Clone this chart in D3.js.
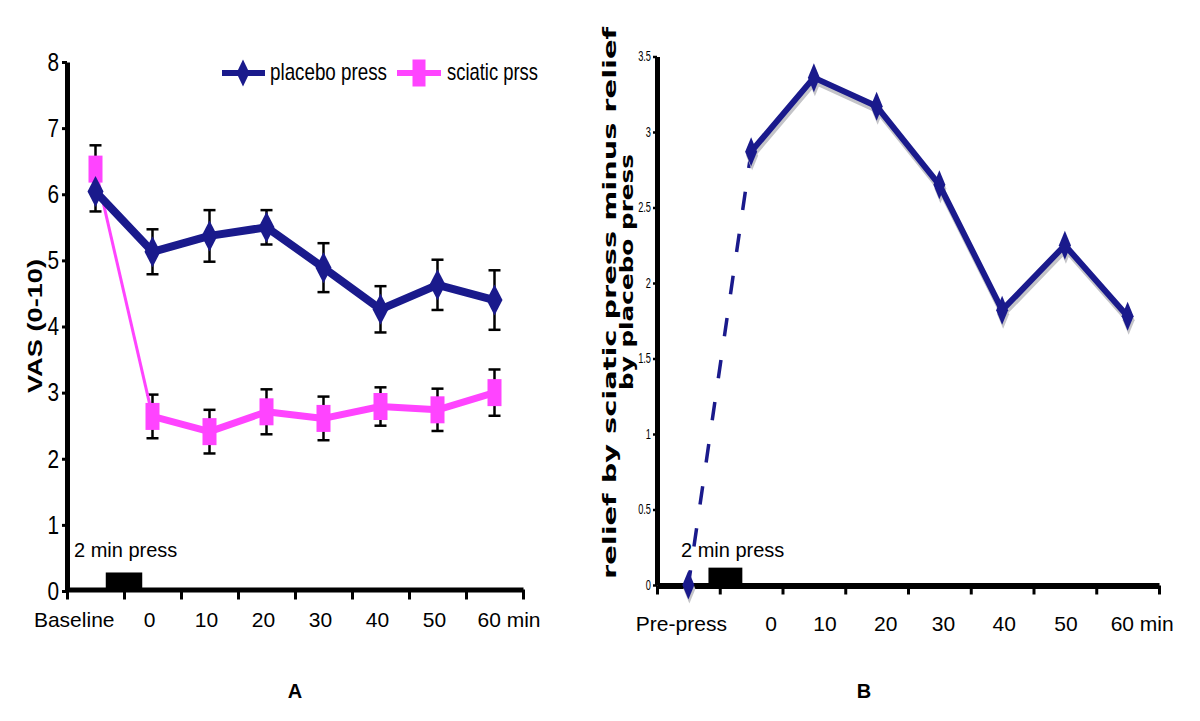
<!DOCTYPE html>
<html><head><meta charset="utf-8">
<script src="https://cdn.jsdelivr.net/npm/d3@7"></script>
<style>body{margin:0;background:#fff} svg{display:block}</style>
</head><body>
<svg id="c" width="1200" height="721"></svg>
<script>
// ---- data ----
const categoriesA = ["Baseline","0","10","20","30","40","50","60 min"];
const placeboMean = [6.04,5.13,5.37,5.50,4.89,4.26,4.63,4.40];
const placeboSE   = [0.30,0.34,0.39,0.26,0.37,0.35,0.38,0.45];
const sciaticMean = [6.38,2.64,2.41,2.71,2.61,2.79,2.74,3.00];
const sciaticSE   = [0.36,0.33,0.33,0.34,0.33,0.29,0.32,0.35];
const yTicksA = [0,1,2,3,4,5,6,7,8];
const seriesNames = ["placebo press","sciatic prss"];

const categoriesB = ["Pre-press","0","10","20","30","40","50","60 min"];
const reliefDiff  = [0,2.87,3.36,3.17,2.65,1.82,2.25,1.78];
const yTicksB = [0,0.5,1,1.5,2,2.5,3,3.5];

// ---- styles ----
const sans = "'Liberation Sans',Arial,Helvetica,sans-serif";
const BLUE = "#1a1a8c", PINK = "#ff44ff";
const svg = d3.select("#c");

function diamond(w,h){return `M0,${-h/2}L${w/2},0L0,${h/2}L${-w/2},0Z`;}
// horizontally condense text (narrow face look)
function condense(sel, f){
  sel.each(function(){
    const w = this.getComputedTextLength();
    d3.select(this).attr("textLength", w*f).attr("lengthAdjust","spacingAndGlyphs");
  });
}

// ================= Panel A =================
const xA  = d3.scaleBand().domain(categoriesA).range([67,523]);
const xbA = d3.scaleLinear().domain([0,categoriesA.length]).range([67,523]);
const yA  = d3.scaleLinear().domain([0,8]).range([591,62]);
const cA = c => xA(c) + xA.bandwidth()/2;

// y axis
const gyA = svg.append("g").attr("transform","translate(67,0)")
  .call(d3.axisLeft(yA).tickValues(yTicksA).tickSize(5).tickSizeOuter(0).tickPadding(3));
gyA.select(".domain").attr("stroke-width",5);
gyA.selectAll(".tick line").attr("stroke-width",3);
gyA.selectAll(".tick text").attr("font-family",sans).attr("font-size",26).attr("fill","#000").call(condense,0.8);

// x axis (ticks at category boundaries)
const gxA = svg.append("g").attr("transform","translate(0,589.5)")
  .call(d3.axisBottom(xbA).ticks(categoriesA.length).tickSize(10).tickSizeOuter(0).tickFormat(""));
gxA.select(".domain").attr("stroke-width",5);
gxA.selectAll(".tick line").attr("stroke-width",3);

// x labels
const lxA = svg.append("g").attr("transform","translate(0,612)")
  .call(d3.axisBottom(xA).tickSize(0).tickPadding(0));
lxA.select(".domain").remove();
lxA.selectAll(".tick text").attr("font-family",sans).attr("font-size",21).attr("fill","#000")
  .each(function(d){
    const t = d3.select(this);
    if(d==="Baseline"){t.attr("text-anchor","end").attr("dx",19);}
    else if(d.indexOf("min")>=0){t.attr("text-anchor","start").attr("dx",-17);}
    else t.attr("dx",-3);
  });

// y title
svg.append("text").attr("transform","translate(42,326) rotate(-90)")
  .attr("text-anchor","middle").attr("font-family",sans).attr("font-weight","bold")
  .attr("font-size",20).attr("textLength",134).attr("lengthAdjust","spacingAndGlyphs")
  .text("VAS (0-10)");

// press box + label
svg.append("rect").attr("x",xbA(0.68)).attr("y",yA(0.28)).attr("width",xbA(1.32)-xbA(0.68))
  .attr("height",yA(0)-yA(0.28)).attr("fill","#000");
svg.append("text").attr("x",74).attr("y",557).attr("font-family",sans).attr("font-size",20).text("2 min press");

// error bars
function errBars(means, ses){
  const g = svg.append("g").attr("stroke","#000").attr("stroke-width",2.5);
  categoriesA.forEach((c,i)=>{
    const x = cA(c), y1 = yA(means[i]+ses[i]), y0 = yA(means[i]-ses[i]);
    g.append("line").attr("x1",x).attr("x2",x).attr("y1",y1).attr("y2",y0);
    g.append("line").attr("x1",x-6).attr("x2",x+6).attr("y1",y1).attr("y2",y1);
    g.append("line").attr("x1",x-6).attr("x2",x+6).attr("y1",y0).attr("y2",y0);
  });
}
errBars(placeboMean, placeboSE);
errBars(sciaticMean, sciaticSE);

const lineA = d3.line().x(d=>cA(d.c)).y(d=>yA(d.v));
const sciPts = categoriesA.map((c,i)=>({c,v:sciaticMean[i]}));
const plaPts = categoriesA.map((c,i)=>({c,v:placeboMean[i]}));

// sciatic: thin first segment, thick rest
svg.append("path").datum(sciPts.slice(0,2)).attr("d",lineA).attr("fill","none")
  .attr("stroke",PINK).attr("stroke-width",3);
svg.append("path").datum(sciPts.slice(1)).attr("d",lineA).attr("fill","none")
  .attr("stroke",PINK).attr("stroke-width",7).attr("stroke-linejoin","round");
svg.append("g").selectAll("rect").data(sciPts).join("rect")
  .attr("x",d=>cA(d.c)-7).attr("y",d=>yA(d.v)-13.5).attr("width",14).attr("height",27).attr("fill",PINK);

svg.append("path").datum(plaPts).attr("d",lineA).attr("fill","none")
  .attr("stroke",BLUE).attr("stroke-width",8).attr("stroke-linejoin","round");
svg.append("g").selectAll("path").data(plaPts).join("path")
  .attr("transform",d=>`translate(${cA(d.c)},${yA(d.v)})`).attr("d",diamond(16,31)).attr("fill",BLUE);

// legend
const lg = svg.append("g");
lg.append("line").attr("x1",222).attr("x2",265).attr("y1",73).attr("y2",73).attr("stroke",BLUE).attr("stroke-width",6);
lg.append("path").attr("transform","translate(243,73)").attr("d",diamond(13,27)).attr("fill",BLUE);
lg.append("text").attr("x",270).attr("y",80).attr("font-family",sans).attr("font-size",24)
  .attr("textLength",117).attr("lengthAdjust","spacingAndGlyphs").text(seriesNames[0]);
lg.append("line").attr("x1",397).attr("x2",441).attr("y1",73).attr("y2",73).attr("stroke",PINK).attr("stroke-width",6);
lg.append("rect").attr("x",412.5).attr("y",59.5).attr("width",13).attr("height",27).attr("fill",PINK);
lg.append("text").attr("x",447).attr("y",80).attr("font-family",sans).attr("font-size",24)
  .attr("textLength",91).attr("lengthAdjust","spacingAndGlyphs").text(seriesNames[1]);

svg.append("text").attr("x",295).attr("y",698).attr("text-anchor","middle").attr("font-family",sans)
  .attr("font-weight","bold").attr("font-size",20).text("A");

// ================= Panel B =================
const xB  = d3.scaleBand().domain(categoriesB).range([657,1159]);
const xbB = d3.scaleLinear().domain([0,categoriesB.length]).range([657,1159]);
const yB  = d3.scaleLinear().domain([0,3.5]).range([585,56.5]);
const cB = c => xB(c) + xB.bandwidth()/2;

const gyB = svg.append("g").attr("transform","translate(657,0)")
  .call(d3.axisLeft(yB).tickValues(yTicksB).tickSize(4).tickSizeOuter(0).tickPadding(2).tickFormat(d3.format("~g")));
gyB.select(".domain").attr("stroke-width",5);
gyB.selectAll(".tick line").attr("stroke-width",2.5);
gyB.selectAll(".tick text").attr("font-family",sans).attr("font-size",14).attr("fill","#000").call(condense,0.66);

const gxB = svg.append("g").attr("transform","translate(0,585.5)")
  .call(d3.axisBottom(xbB).ticks(categoriesB.length).tickSize(9).tickSizeOuter(0).tickFormat(""));
gxB.select(".domain").attr("stroke-width",6);
gxB.selectAll(".tick line").attr("stroke-width",3);

const lxB = svg.append("g").attr("transform","translate(0,616)")
  .call(d3.axisBottom(xB).tickSize(0).tickPadding(0));
lxB.select(".domain").remove();
const dxB = {"Pre-press":-7,"0":20,"10":11,"20":9,"30":4,"40":2,"50":1};
lxB.selectAll(".tick text").attr("font-family",sans).attr("font-size",21).attr("fill","#000")
  .each(function(d){
    const t = d3.select(this);
    if(d.indexOf("min")>=0){t.attr("text-anchor","start").attr("dx",-17);}
    else t.attr("dx",dxB[d]||0);
  });

// y title (two lines)
svg.append("text").attr("transform","translate(616,303) rotate(-90)")
  .attr("text-anchor","middle").attr("font-family","'DejaVu Sans',sans-serif").attr("font-weight","bold")
  .attr("font-size",17).attr("textLength",552).attr("lengthAdjust","spacingAndGlyphs")
  .text("relief by sciatic press minus relief");
svg.append("text").attr("transform","translate(633,272) rotate(-90)")
  .attr("text-anchor","middle").attr("font-family","'DejaVu Sans',sans-serif").attr("font-weight","bold")
  .attr("font-size",17).attr("textLength",236).attr("lengthAdjust","spacingAndGlyphs")
  .text("by placebo press");

// press box + label
svg.append("rect").attr("x",xbB(0.82)).attr("y",yB(0.115)).attr("width",xbB(1.36)-xbB(0.82))
  .attr("height",yB(0)-yB(0.115)).attr("fill","#000");
svg.append("text").attr("x",681).attr("y",557).attr("font-family",sans).attr("font-size",20).text("2 min press");

const ptsB = categoriesB.map((c,i)=>({c,v:reliefDiff[i]}));
const lineB = d3.line().x(d=>cB(d.c)).y(d=>yB(d.v));

// dashed connection pre-press -> 0
svg.append("path").datum([ptsB[1],ptsB[0]]).attr("d",lineB).attr("fill","none")
  .attr("stroke",BLUE).attr("stroke-width",3.5).attr("stroke-dasharray","18.5,24").attr("stroke-dashoffset",2);

// shadow
const sh = svg.append("g").attr("transform","translate(1,4)");
sh.append("path").datum(ptsB.slice(1)).attr("d",lineB).attr("fill","none")
  .attr("stroke","#c4c4c8").attr("stroke-width",6).attr("stroke-linejoin","round");
sh.selectAll("path.m").data(ptsB).join("path").attr("class","m")
  .attr("transform",d=>`translate(${cB(d.c)},${yB(d.v)})`).attr("d",diamond(12,29)).attr("fill","#c4c4c8");

svg.append("path").datum(ptsB.slice(1)).attr("d",lineB).attr("fill","none")
  .attr("stroke",BLUE).attr("stroke-width",6).attr("stroke-linejoin","round");
svg.append("g").selectAll("path").data(ptsB).join("path")
  .attr("transform",d=>`translate(${cB(d.c)},${yB(d.v)})`).attr("d",diamond(12,29)).attr("fill",BLUE);

svg.append("text").attr("x",864).attr("y",698).attr("text-anchor","middle").attr("font-family",sans)
  .attr("font-weight","bold").attr("font-size",20).text("B");
</script>
</body></html>
